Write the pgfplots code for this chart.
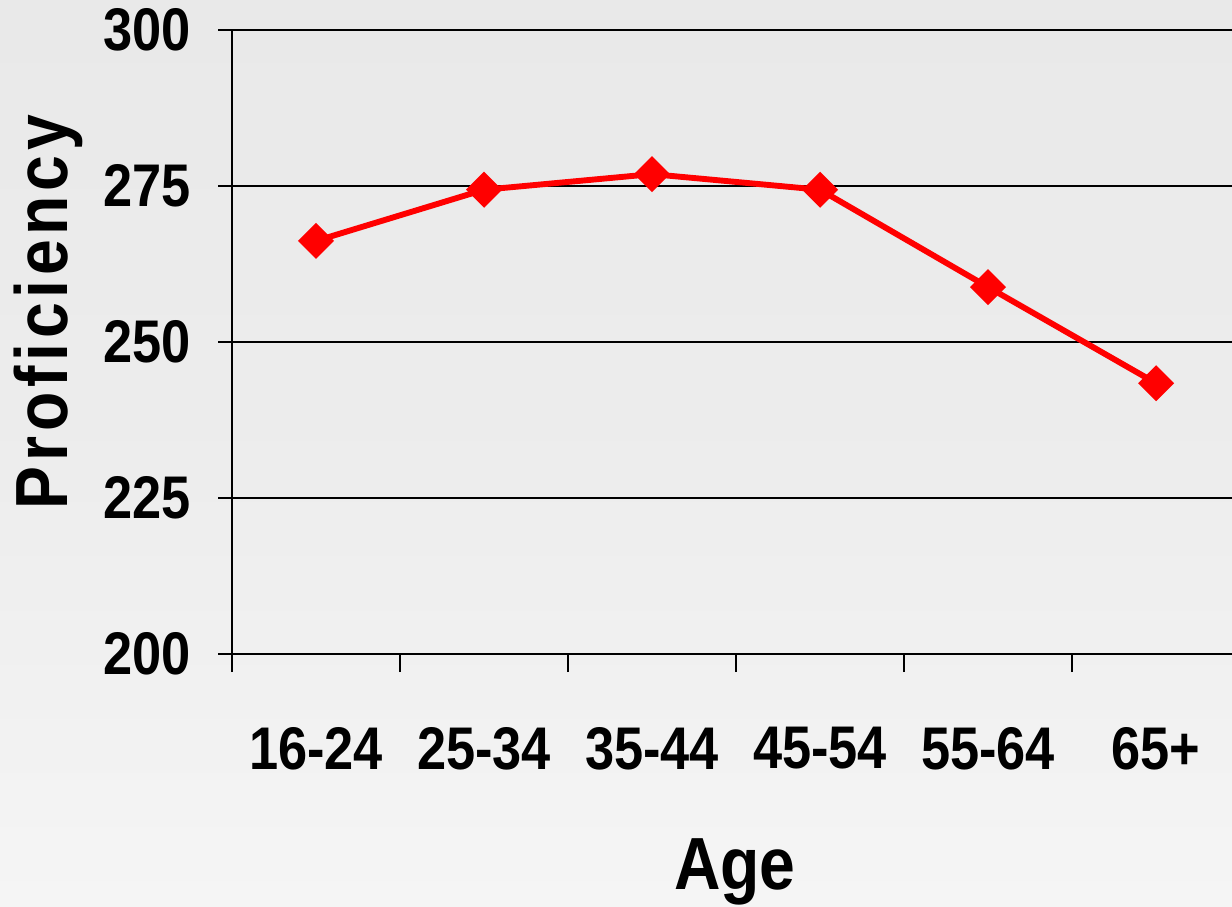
\documentclass[border=0pt]{standalone}
\usepackage{fontspec}
\setmainfont[FakeStretch=0.87]{Liberation Sans}
\usepackage{pgfplots}
\pgfplotsset{compat=1.18}
\definecolor{bgtop}{HTML}{E9E9E9}
\definecolor{bgbot}{HTML}{F5F5F5}
\begin{document}
\begin{tikzpicture}
\fill[use as bounding box, top color=bgtop, bottom color=bgbot, middle color=bgtop!70!bgbot]
  (-82.86pt,-90.3pt) rectangle (357.14pt,233.6pt);
\begin{axis}[
    at={(0,0)}, anchor=south west,
    scale only axis, width=357.14pt, height=222.9pt,
    xmin=0, xmax=5.952, ymin=200, ymax=300,
    axis x line*=bottom, axis y line*=left,
    axis line style={-, line width=1pt, black},
    ytick={200,225,...,300},
    ymajorgrids, grid style={black, line width=0.7pt},
    xtick={0.5,1.5,...,5.5},
    xticklabels={16-24,25-34,35-44,45-54,55-64,65+},
    minor xtick={0,1,...,5},
    major x tick style={draw=none},
    minor x tick style={black, line width=0.8pt},
    minor tick length=6.4pt,
    y tick style={black, line width=0.8pt},
    major tick length=5pt,
    tick align=outside,
    /pgf/number format/assume math mode=true,
    ticklabel style={font=\fontsize{21.5}{24}\bfseries},
    xticklabel style={yshift=-17.5pt},
    yticklabel style={xshift=-6.3pt},
    xlabel={Age},
    ylabel={\addfontfeature{LetterSpace=6.4}Proficiency},
    label style={font=\fontsize{26.4}{30}\bfseries},
    xlabel style={at={(axis description cs:0.503,-0.349)}, anchor=center},
    ylabel style={at={(axis description cs:-0.184,0.548)}, anchor=center},
    clip=false,
]
\addplot[red, line width=2.1pt, mark=square*, mark size=3.5pt,
         mark options={rotate=45, solid, fill=red}]
  coordinates {
    (0.5,266.2)
    (1.5,274.4)
    (2.5,276.9)
    (3.5,274.4)
    (4.5,258.8)
    (5.5,243.4)
  };
\end{axis}
\end{tikzpicture}
\end{document}
